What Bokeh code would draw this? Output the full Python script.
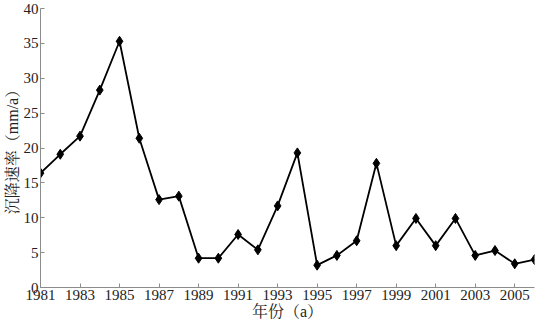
from bokeh.plotting import figure
from bokeh.models import FixedTicker, Range1d
from bokeh.embed import file_html
from bokeh.resources import INLINE

years = list(range(1981, 2007))
rates = [16.4, 19.1, 21.7, 28.3, 35.3, 21.4, 12.6, 13.1, 4.2, 4.2, 7.6, 5.4, 11.7,
         19.3, 3.2, 4.6, 6.7, 17.8, 6.0, 9.9, 6.0, 9.9, 4.6, 5.3, 3.4, 4.0]
x_ticks = list(range(1981, 2006, 2))
y_ticks = [0, 5, 10, 15, 20, 25, 30, 35, 40]

FONT = "'Liberation Serif', 'Times New Roman', 'Noto Serif CJK SC', 'Noto Sans CJK SC', serif"

p = figure(width=539, height=325, output_backend="svg", toolbar_location=None,
           x_range=Range1d(1981, 2006), y_range=Range1d(0, 40),
           min_border_left=38, min_border_right=5, min_border_top=8, min_border_bottom=38)
p.outline_line_color = None
p.grid.visible = False
p.background_fill_color = "white"

p.line(years, rates, line_color="black", line_width=1.8)
p.scatter(years, rates, marker="diamond", size=10, fill_color="black", line_color="black")

for ax in (p.xaxis[0], p.yaxis[0]):
    ax.axis_line_color = "#8c8c8c"
    ax.major_tick_line_color = "#8c8c8c"
    ax.major_tick_in = 4
    ax.major_tick_out = 0
    ax.minor_tick_line_color = None
    ax.major_label_text_font = FONT
    ax.major_label_text_font_size = "15px"
    ax.major_label_text_color = "#222222"
    ax.axis_label_text_font = FONT
    ax.axis_label_text_font_size = "16px"
    ax.axis_label_text_font_style = "normal"
    ax.axis_label_text_color = "#222222"

p.xaxis.ticker = FixedTicker(ticks=x_ticks)
p.yaxis.ticker = FixedTicker(ticks=y_ticks)
p.xaxis.axis_label = "年份（a）"
p.yaxis.axis_label = "沉降速率（mm/a）"
p.xaxis.major_label_standoff = 2
p.yaxis.major_label_standoff = 2
p.xaxis.axis_label_standoff = 0
p.yaxis.axis_label_standoff = 0

open("out.html", "w").write(file_html(p, INLINE))
